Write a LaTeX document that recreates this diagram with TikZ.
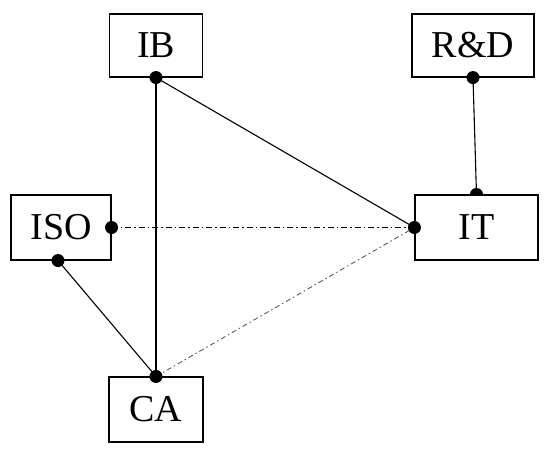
\documentclass[tikz,border=0pt]{standalone}
\usepackage{fontspec}
\setmainfont{Liberation Serif}
\begin{document}
\begin{tikzpicture}[x=1pt,y=-1pt,
  box/.style={draw, line width=1.1pt, fill=white, inner sep=0pt, font=\fontsize{38}{42}\selectfont},
  link/.style={line width=1.1pt},
  dd/.style={line width=1.3pt, dash pattern=on 6pt off 3pt on 1.5pt off 3pt},
  ddl/.style={line width=0.9pt, gray!70!black, dash pattern=on 5pt off 3pt on 1.5pt off 3pt}]
\useasboundingbox (0,0) rectangle (550,456);
\node[box, minimum width=93pt, minimum height=63pt] (IB) at (156,45.5) {IB};
\node[box, minimum width=122pt, minimum height=63pt] (RD) at (473,45.5) {R\&D};
\node[box, minimum width=100pt, minimum height=65pt] (ISO) at (61,227.5) {ISO};
\node[box, minimum width=123pt, minimum height=65pt] (IT) at (476.5,227.5) {IT};
\node[box, minimum width=94pt, minimum height=65pt] (CA) at (156,409.5) {CA};
\coordinate (ISOs) at ([xshift=-3pt]ISO.south);
\draw[link] (IB.south) -- (CA.north);
\draw[link] (IB.south) -- (IT.west);
\draw[link] (RD.south) -- (IT.north);
\draw[link] (ISOs) -- (CA.north);
\draw[dd] (ISO.east) -- (IT.west);
\draw[ddl] (CA.north) -- (IT.west);
\foreach \p in {IB.south, RD.south, ISO.east, ISOs, IT.west, CA.north}
  \fill (\p) circle (6.5pt);
\fill (IT.north) ++(-6.5,0) arc[start angle=180, end angle=0, radius=6.5pt] -- cycle;
\end{tikzpicture}
\end{document}
